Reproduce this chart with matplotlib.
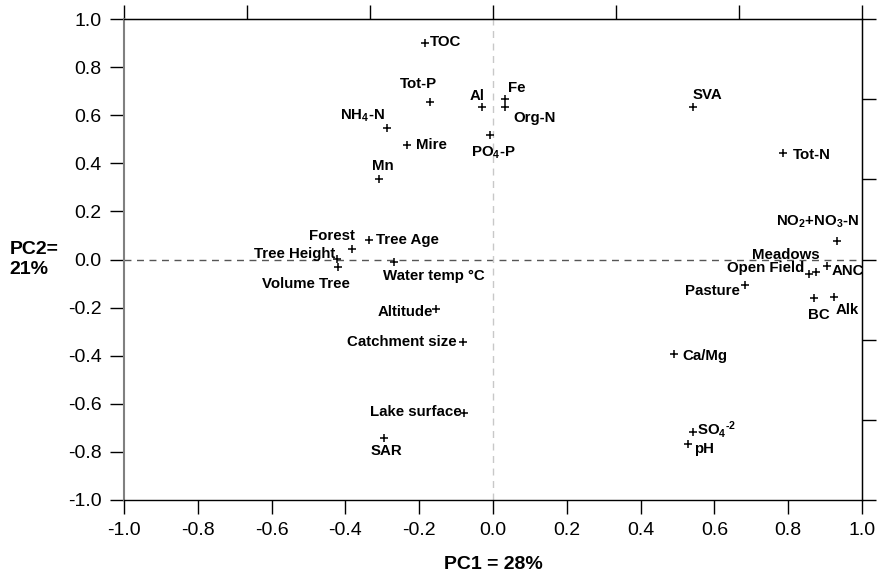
import numpy as np
import matplotlib.pyplot as plt

plt.rcParams['font.family'] = ['Liberation Sans', 'DejaVu Sans']
plt.rcParams['mathtext.fontset'] = 'custom'
plt.rcParams['mathtext.rm'] = 'Liberation Sans:bold'
plt.rcParams['mathtext.bf'] = 'Liberation Sans:bold'
plt.rcParams['mathtext.default'] = 'rm'

# loadings
labels = ['TOC', 'Tot-P', 'Al', 'Fe', 'Org-N', r'NH$_4$-N', 'Mire', 'Mn',
          r'PO$_4$-P', 'SVA', 'Tot-N', r'NO$_2$+NO$_3$-N', 'Meadows',
          'Open Field', 'ANC', 'Pasture', 'BC', 'Alk', 'Tree Height',
          'Forest', 'Tree Age', 'Volume Tree', 'Water temp °C', 'Altitude',
          'Catchment size', 'Ca/Mg', 'Lake surface', 'SAR',
          r'SO$_4$$^{\text{-2}}$', 'pH']
pc1 = [-0.185, -0.172, -0.030, 0.033, 0.033, -0.287, -0.233, -0.309,
       -0.008, 0.543, 0.787, 0.933, 0.874, 0.857, 0.904, 0.682, 0.870,
       0.923, -0.422, -0.383, -0.336, -0.421, -0.269, -0.154, -0.081,
       0.491, -0.079, -0.295, 0.541, 0.528]
pc2 = [0.901, 0.656, 0.636, 0.669, 0.633, 0.548, 0.478, 0.336, 0.516,
       0.636, 0.441, 0.079, -0.050, -0.062, -0.025, -0.108, -0.162,
       -0.157, 0.003, 0.044, 0.083, -0.032, -0.011, -0.204, -0.341,
       -0.391, -0.640, -0.741, -0.717, -0.769]

# label placement: (dx px, dy px, horizontal alignment)
offsets = [(5, 1, 'left'), (-11, 18, 'center'), (-5, 11, 'center'),
           (12, 11, 'center'), (8, -11, 'left'), (-2, 12, 'right'),
           (9, 0, 'left'), (4, 13, 'center'), (3, -17, 'center'),
           (14, 12, 'center'), (9, -2, 'left'), (22, 19, 'right'),
           (-30, 17, 'center'), (-5, 6, 'right'), (5, -5, 'left'),
           (-5, -6, 'right'), (5, -17, 'center'), (2, -13, 'left'),
           (-2, 5, 'right'), (3, 13, 'right'), (7, 0, 'left'),
           (-32, -17, 'center'), (-11, -14, 'left'), (-3, -3, 'right'),
           (-6, 0, 'right'), (8, -2, 'left'), (-2, 1, 'right'),
           (2, -13, 'center'), (4, 2, 'left'), (6, -5, 'left')]

fig = plt.figure(figsize=(8.78, 5.74), dpi=100, facecolor='white')
ax = fig.add_axes([124 / 878, 1 - 500 / 574, 738 / 878, 481 / 574])

ax.axhline(0, color='#555555', lw=1, ls=(0, (5, 4)), zorder=1)
ax.axvline(0, color='#c8c8c8', lw=1, ls=(0, (5, 4)), zorder=1)

ax.plot(pc1, pc2, ls='none', marker='+', ms=6, mew=1.1, color='black', zorder=3)

for lab, x, y, (dx, dy, ha) in zip(labels, pc1, pc2, offsets):
    ax.annotate(lab, (x, y), xytext=(dx, dy), textcoords='offset pixels',
                ha=ha, va='center', fontsize=10.8, fontweight='bold')

ax.set_xlim(-1, 1)
ax.set_ylim(-1, 1)
ticks = np.round(np.arange(-1, 1.01, 0.2), 1)
ticks[np.abs(ticks) < 1e-9] = 0.0
ax.set_xticks(ticks)
ax.set_yticks(ticks)
ax.set_xticklabels([f'{t:.1f}' for t in ticks])
ax.set_yticklabels([f'{t:.1f}' for t in ticks])
ax.tick_params(direction='out', length=10, width=1, labelsize=14, pad=6)

ax.spines['left'].set_color('#808080')
ax.spines['left'].set_linewidth(1.5)
for s in ['top', 'right', 'bottom']:
    ax.spines[s].set_color('black')
    ax.spines[s].set_linewidth(1)

minor = np.linspace(-1, 1, 7)
top = ax.secondary_xaxis('top')
top.set_xticks(minor)
top.tick_params(direction='out', length=10, width=1, labeltop=False)
right = ax.secondary_yaxis('right')
right.set_yticks(minor)
right.tick_params(direction='out', length=10, width=1, labelright=False)

ax.set_xlabel('PC1 = 28%', fontsize=14, fontweight='bold', labelpad=12)
ax.set_ylabel('PC2=\n21%', fontsize=14, fontweight='bold', rotation=0,
              ha='left', va='center', multialignment='left')
ax.yaxis.set_label_coords(-0.155, 0.5)

fig.savefig('out.png', dpi=100)
